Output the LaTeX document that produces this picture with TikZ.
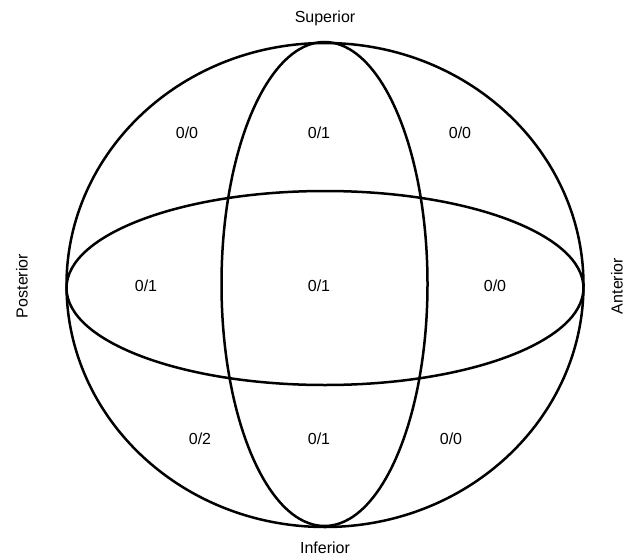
\documentclass[tikz,border=0pt]{standalone}
\usepackage{fontspec}
\setmainfont{Liberation Sans}
\begin{document}
\begin{tikzpicture}[x=1pt,y=-1pt,
  outline/.style={draw=black,line width=2.5pt},
  lbl/.style={font=\fontsize{16}{19}\selectfont,inner sep=0pt}]
\useasboundingbox (0,0) rectangle (634,559);
\draw[outline] (325,285) ellipse [x radius=258.5, y radius=242];
\draw[outline] (325,288) ellipse [x radius=258.5, y radius=97];
\draw[outline] (324.5,284) ellipse [x radius=103, y radius=242];
\node[lbl] (sup) at (325,18) {Superior};
\node[lbl] (inf) at (325,548) {Inferior};
\node[lbl,rotate=90] (post) at (22,286) {Posterior};
\node[lbl,rotate=90] (ant) at (617,286) {Anterior};
\node[lbl] (a1) at (187,133) {0/0};
\node[lbl] (a2) at (319,133) {0/1};
\node[lbl] (a3) at (460,133) {0/0};
\node[lbl] (b1) at (146,286) {0/1};
\node[lbl] (b2) at (319,286) {0/1};
\node[lbl] (b3) at (495,286) {0/0};
\node[lbl] (c1) at (200,439) {0/2};
\node[lbl] (c2) at (319,439) {0/1};
\node[lbl] (c3) at (451,439) {0/0};
\end{tikzpicture}
\end{document}
